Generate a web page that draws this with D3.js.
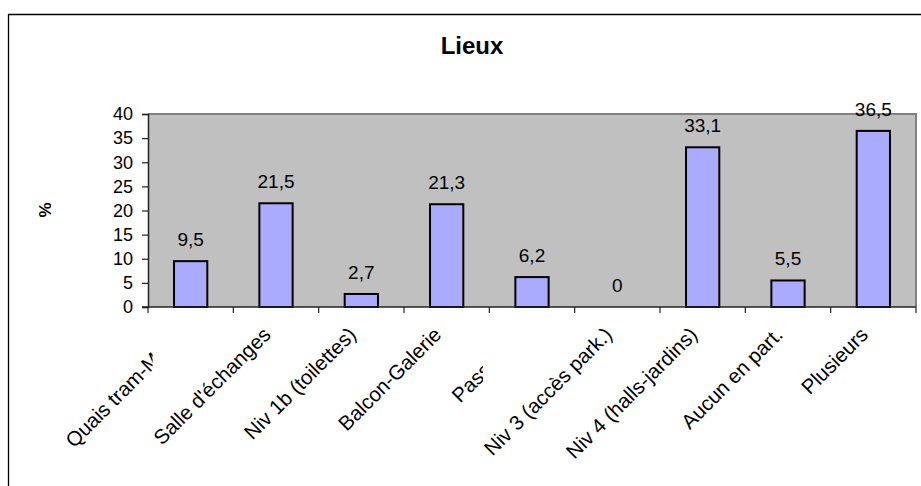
<!DOCTYPE html>
<html>
<head>
<meta charset="utf-8">
<script src="https://cdn.jsdelivr.net/npm/d3@7"></script>
<style>
  html, body { margin: 0; padding: 0; background: #fff; }
  svg { display: block; font-family: "Liberation Sans", Arial, Helvetica, sans-serif; }
</style>
</head>
<body>
<svg id="chart" width="921" height="486"></svg>
<script>
const categories = ["Quais tram-Métro", "Salle d'échanges", "Niv 1b (toilettes)", "Balcon-Galerie", "Passerelle", "Niv 3 (accès park.)", "Niv 4 (halls-jardins)", "Aucun en part.", "Plusieurs"];
const values = [9.5, 21.5, 2.7, 21.3, 6.2, 0, 33.1, 5.5, 36.5];
const valueLabels = ["9,5", "21,5", "2,7", "21,3", "6,2", "0", "33,1", "5,5", "36,5"];
const yTicks = [0, 5, 10, 15, 20, 25, 30, 35, 40];
const hiddenByNext = [true, false, false, false, true, false, false, false, false];
const title = "Lieux";
const yTitle = "%";

const svg = d3.select("#chart");
const plot = { left: 148, right: 916, top: 114, bottom: 307 };

// outer frame (left and top visible)
svg.append("path")
  .attr("d", "M8.5,486 V14.5 H921")
  .attr("fill", "none").attr("stroke", "#000").attr("stroke-width", 1.3);

const x = d3.scaleBand().domain(categories).range([plot.left, plot.right]).paddingInner(0).paddingOuter(0);
const y = d3.scaleLinear().domain([0, 40]).range([plot.bottom, plot.top]);

// plot area
svg.append("rect")
  .attr("x", plot.left).attr("y", plot.top)
  .attr("width", plot.right - plot.left).attr("height", plot.bottom - plot.top)
  .attr("fill", "#c0c0c0");
svg.append("path")
  .attr("d", `M${plot.left},${plot.top} H${plot.right} V${plot.bottom}`)
  .attr("fill", "none").attr("stroke", "#808080").attr("stroke-width", 2);

// bars
const barW = x.bandwidth() * 0.39;
svg.append("g").selectAll("rect").data(values).join("rect")
  .attr("x", (d, i) => x(categories[i]) + x.bandwidth() / 2 - barW / 2)
  .attr("y", d => y(d))
  .attr("width", barW)
  .attr("height", d => y(0) - y(d))
  .attr("fill", "#aaaaff")
  .attr("stroke", "#000").attr("stroke-width", 2);

// value labels
svg.append("g").selectAll("text").data(values).join("text")
  .attr("x", (d, i) => x(categories[i]) + x.bandwidth() / 2)
  .attr("y", d => y(d) - 15)
  .attr("text-anchor", "middle")
  .attr("font-size", 19)
  .attr("fill", "#000")
  .text((d, i) => valueLabels[i]);

// y axis
const yAxis = svg.append("g").attr("transform", `translate(${plot.left},0)`)
  .call(d3.axisLeft(y).tickValues(yTicks).tickSize(6).tickPadding(9).tickFormat(d3.format("d")));
yAxis.select(".domain").attr("stroke", "#222").attr("stroke-width", 1.5);
yAxis.selectAll(".tick line").attr("stroke", "#222").attr("stroke-width", 1.2);
yAxis.selectAll(".tick text").attr("font-size", 18).attr("fill", "#000")
  .attr("font-family", "'Liberation Sans', Arial, sans-serif");

// x axis line and ticks at band boundaries
const xAxis = svg.append("g").attr("transform", `translate(0,${plot.bottom})`);
xAxis.append("line").attr("x1", plot.left - 6).attr("x2", plot.right)
  .attr("stroke", "#222").attr("stroke-width", 1.5);
const bounds = categories.map(c => x(c)).concat([plot.right]);
xAxis.selectAll("line.tk").data(bounds).join("line").attr("class", "tk")
  .attr("x1", d => d).attr("x2", d => d).attr("y1", 0).attr("y2", 6)
  .attr("stroke", "#222").attr("stroke-width", 1.2);

// category labels
const defs = svg.append("defs");
const labelG = svg.append("g");
const labels = labelG.selectAll("text").data(categories).join("text")
  .attr("transform", c => `translate(${x(c) + x.bandwidth() / 2 - 4},336) rotate(-45)`)
  .attr("text-anchor", "end")
  .attr("font-size", 20.5)
  .attr("fill", "#000")
  .text(c => c);
// labels partially covered by the following label's box
const boxes = labels.nodes().map(n => n.getBoundingClientRect());
labels.each(function (c, i) {
  if (hiddenByNext[i] && i + 1 < categories.length) {
    const id = "clip" + i;
    defs.append("clipPath").attr("id", id).attr("clipPathUnits", "userSpaceOnUse")
      .append("rect").attr("x", 0).attr("y", 0).attr("width", boxes[i + 1].left + 4).attr("height", 486);
    const g = labelG.append("g").attr("clip-path", `url(#${id})`);
    g.node().appendChild(this);
  }
});

// title
svg.append("text").attr("x", 472).attr("y", 54).attr("text-anchor", "middle")
  .attr("font-size", 24).attr("font-weight", "bold").text(title);

// y title
svg.append("text").attr("transform", "translate(51,210) rotate(-90)")
  .attr("text-anchor", "middle").attr("font-size", 17).attr("font-weight", "bold").text(yTitle);
</script>
</body>
</html>
